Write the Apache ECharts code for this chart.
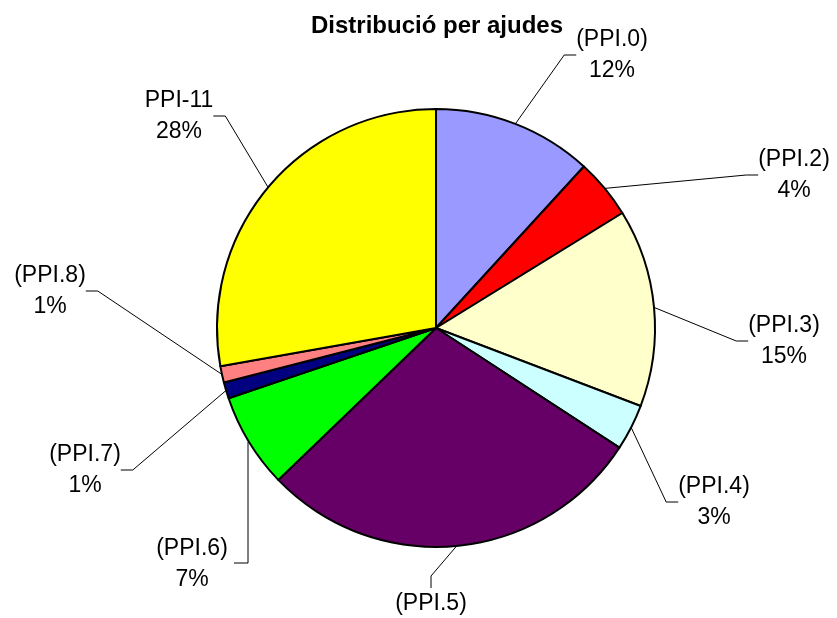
<!DOCTYPE html>
<html>
<head>
<meta charset="utf-8">
<title>Distribució per ajudes</title>
<script src="https://cdn.jsdelivr.net/npm/echarts@6/dist/echarts.min.js"></script>
<style>
  html, body { margin: 0; padding: 0; background: #fff; }
  #chart { width: 837px; height: 618px; }
</style>
</head>
<body>
<div id="chart"></div>
<script>
// categories (clockwise from the top)
var categories = ['(PPI.0)', '(PPI.2)', '(PPI.3)', '(PPI.4)', '(PPI.5)', '(PPI.6)', '(PPI.7)', '(PPI.8)', 'PPI-11'];
// share of each slice
var values = [11.8, 4.4, 14.6, 3.4, 28.6, 7.0, 1.2, 1.2, 27.8];
// slice colours
var colors = ['#9999ff', '#ff0000', '#ffffcc', '#ccffff', '#660066', '#00ff00', '#000080', '#ff8080', '#ffff00'];

// where each label sits (center of the text block)
var labelPos = [
  [612, 55], [794, 175], [784, 341], [714, 502], [431, 619],
  [192, 564], [85, 470], [50, 291], [179, 116]
];

var chart = echarts.init(document.getElementById('chart'));

var option = {
  backgroundColor: '#fff',
  animation: false,
  title: {
    text: 'Distribució per ajudes',
    left: 432,
    top: 9,
    textAlign: 'center',
    textStyle: {
      fontFamily: 'Liberation Sans, Arial, sans-serif',
      fontSize: 24,
      fontWeight: 'bold',
      color: '#000'
    }
  },
  series: [{
    type: 'pie',
    center: [436, 328],
    radius: 219,
    startAngle: 90,
    clockwise: true,
    percentPrecision: 0,
    data: categories.map(function (name, i) {
      return { name: name, value: values[i], itemStyle: { color: colors[i] } };
    }),
    itemStyle: {
      borderColor: '#000',
      borderWidth: 2
    },
    label: {
      show: true,
      position: 'outside',
      formatter: '{b}\n{d}%',
      fontFamily: 'Liberation Sans, Arial, sans-serif',
      fontSize: 23,
      lineHeight: 31,
      color: '#000',
      align: 'center'
    },
    labelLine: {
      show: true,
      length: 20,
      length2: 12,
      lineStyle: { color: '#000', width: 1 }
    },
    // move labels to the same spots as the original
    labelLayout: function (params) {
      var p = labelPos[params.dataIndex];
      var res = { x: p[0], y: p[1], align: 'center', verticalAlign: 'middle' };
      // PPI.6 leader runs straight down, then left
      if (params.dataIndex === 5) {
        res.labelLinePoints = [[248, 442], [248, 563], [234, 563]];
      }
      return res;
    },
    emphasis: { disabled: true }
  }]
};

chart.setOption(option);
</script>
</body>
</html>
